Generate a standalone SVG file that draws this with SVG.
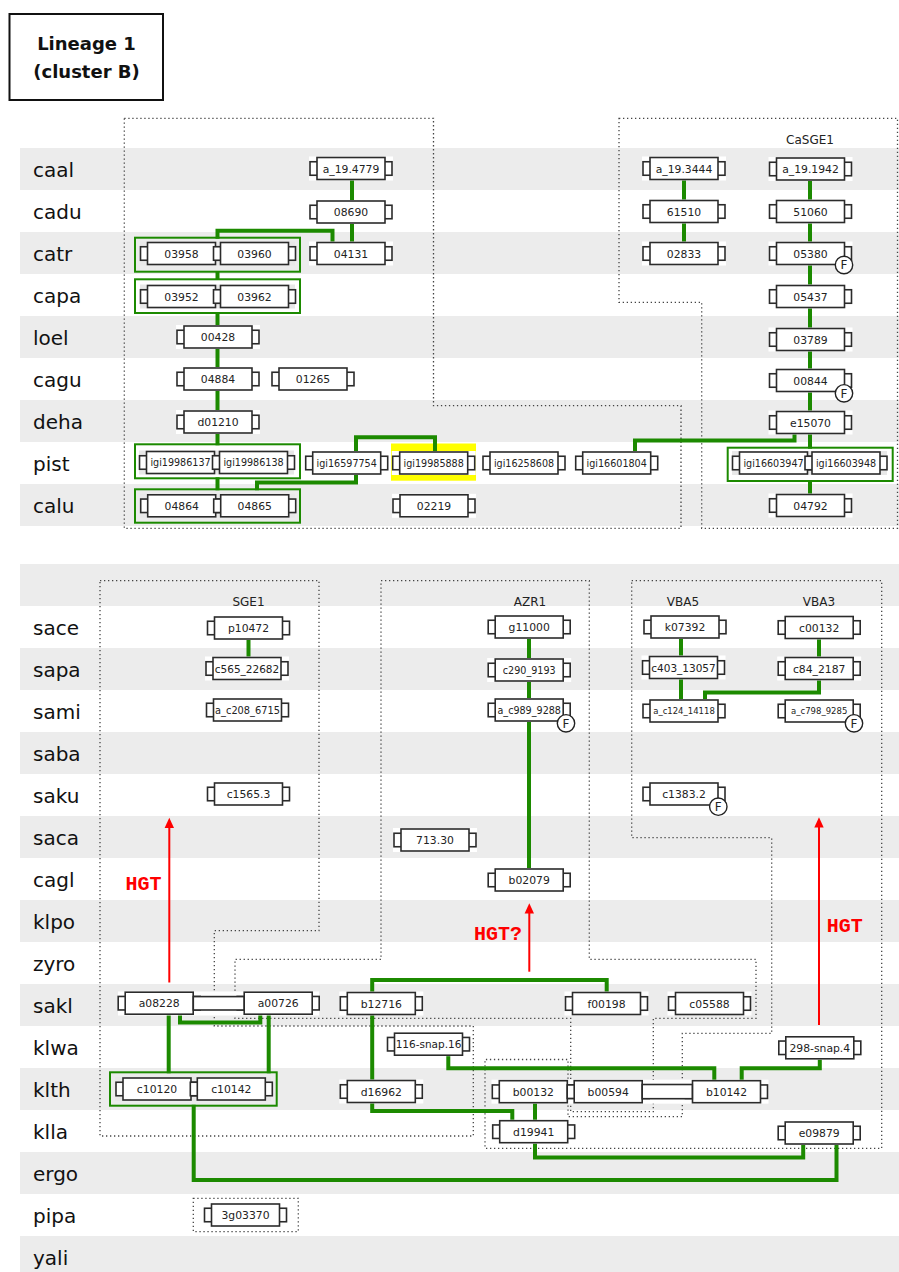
<svg xmlns="http://www.w3.org/2000/svg" xmlns:xlink="http://www.w3.org/1999/xlink" width="899" height="1272" viewBox="0 0 899 1272">
<style>
  .band { fill: #ececec; }
  .sp { font-family: "DejaVu Sans", sans-serif; font-size: 20px; fill: #111; }
  .br { fill: #fff; stroke: #2b2b2b; stroke-width: 1.6; }
  .box { fill: #fff; stroke: #2b2b2b; stroke-width: 1.6; }
  .bar { fill: #fff; stroke: #2b2b2b; stroke-width: 1.6; }
  .lbl { font-family: "DejaVu Sans", sans-serif; font-size: 10.8px; fill: #222; text-anchor: middle; }
  .s9 { font-size: 9.6px; }
  .s105 { font-size: 10.5px; }
  .s98 { font-size: 9.8px; }
  .s86 { font-size: 8.5px; }
  .edge { fill: none; stroke: #1c8a00; stroke-width: 4; }
  .grp { fill: none; stroke: #1c8a00; stroke-width: 2; }
  .ghalo { fill: #e8e8e8; }
  .whalo { fill: #fff; }
  .region { fill: none; stroke: #444; stroke-width: 1.3; stroke-dasharray: 1.3 2.7; }
  .title { font-family: "DejaVu Sans", sans-serif; font-weight: bold; font-size: 18px; fill: #111; text-anchor: middle; }
  .sys { font-family: "DejaVu Sans", sans-serif; font-size: 12px; fill: #222; text-anchor: middle; }
  .hgt { font-family: "Liberation Mono", monospace; font-weight: bold; font-size: 20px; fill: #f00; text-anchor: middle; }
  .arrow { stroke: #f00; stroke-width: 2; fill: none; }
  .head { fill: #f00; }
  .fc { fill: #fff; stroke: #222; stroke-width: 1.4; }
  .ft { font-family: "DejaVu Sans", sans-serif; font-size: 12px; fill: #222; text-anchor: middle; }
</style>
<defs>
  <!-- gene glyph: body with small end caps -->
  <g id="gene">
    <rect class="br" x="-41" y="-6.75" width="8" height="13.5"/>
    <rect class="br" x="33" y="-6.75" width="8" height="13.5"/>
    <rect class="box" x="-34" y="-11" width="68" height="22"/>
  </g>
  <rect id="halo" x="-42" y="-12" width="84" height="24"/>
  <!-- fragment badge -->
  <g id="fbadge">
    <circle class="fc" r="8.7"/>
    <text class="ft" y="4.3">F</text>
  </g>
</defs>

<!-- row bands -->
<g id="bands">
  <rect class="band" x="20" y="148" width="879" height="42"/>
  <rect class="band" x="20" y="232" width="879" height="42"/>
  <rect class="band" x="20" y="316" width="879" height="42"/>
  <rect class="band" x="20" y="400" width="879" height="42"/>
  <rect class="band" x="20" y="484" width="879" height="42"/>
  <rect class="band" x="20" y="564" width="879" height="42"/>
  <rect class="band" x="20" y="648" width="879" height="42"/>
  <rect class="band" x="20" y="732" width="879" height="42"/>
  <rect class="band" x="20" y="816" width="879" height="42"/>
  <rect class="band" x="20" y="900" width="879" height="42"/>
  <rect class="band" x="20" y="984" width="879" height="42"/>
  <rect class="band" x="20" y="1068" width="879" height="42"/>
  <rect class="band" x="20" y="1152" width="879" height="42"/>
  <rect class="band" x="20" y="1236" width="879" height="36"/>
</g>

<!-- title -->
<g id="title">
  <rect x="9.5" y="14" width="153.5" height="86" fill="#fff" stroke="#111" stroke-width="2"/>
  <text class="title" x="86.5" y="50">Lineage 1</text>
  <text class="title" x="86.5" y="78">(cluster B)</text>
</g>

<!-- species labels -->
<g id="species">
  <text class="sp" x="33" y="176.5">caal</text>
  <text class="sp" x="33" y="218.5">cadu</text>
  <text class="sp" x="33" y="260.5">catr</text>
  <text class="sp" x="33" y="302.5">capa</text>
  <text class="sp" x="33" y="344.5">loel</text>
  <text class="sp" x="33" y="386.5">cagu</text>
  <text class="sp" x="33" y="428.5">deha</text>
  <text class="sp" x="33" y="470.5">pist</text>
  <text class="sp" x="33" y="512.5">calu</text>
  <text class="sp" x="33" y="634.5">sace</text>
  <text class="sp" x="33" y="676.5">sapa</text>
  <text class="sp" x="33" y="718.5">sami</text>
  <text class="sp" x="33" y="760.5">saba</text>
  <text class="sp" x="33" y="802.5">saku</text>
  <text class="sp" x="33" y="844.5">saca</text>
  <text class="sp" x="33" y="886.5">cagl</text>
  <text class="sp" x="33" y="928.5">klpo</text>
  <text class="sp" x="33" y="970.5">zyro</text>
  <text class="sp" x="33" y="1012.5">sakl</text>
  <text class="sp" x="33" y="1054.5">klwa</text>
  <text class="sp" x="33" y="1096.5">klth</text>
  <text class="sp" x="33" y="1138.5">klla</text>
  <text class="sp" x="33" y="1180.5">ergo</text>
  <text class="sp" x="33" y="1222.5">pipa</text>
  <text class="sp" x="33" y="1264.5">yali</text>
</g>

<!-- dotted syntenic regions -->
<g id="regions">
  <polygon class="region" points="124.3,118.3 433.5,118.3 433.5,405.7 681,405.7 681,528.3 124.3,528.3"/>
  <polygon class="region" points="619,118.3 897.5,118.3 897.5,528.3 701.7,528.3 701.7,302.3 619,302.3"/>
  <polygon class="region" points="100,580.7 319,580.7 319,930.7 214.3,930.7 214.3,1026 473.3,1026 473.3,1136 100,1136"/>
  <polygon class="region" points="381,580.7 589.3,580.7 589.3,959.3 756,959.3 756,1018.3 653.3,1018.3 653.3,1111.7 570.7,1111.7 570.7,1018.3 235,1018.3 235,959.3 381,959.3"/>
  <polygon class="region" points="631.7,580.7 881.7,580.7 881.7,1148.3 485,1148.3 485,1059.5 568,1059.5 568,1116.7 682.3,1116.7 682.3,1033.3 771.7,1033.3 771.7,837.7 631.7,837.7"/>
  <rect class="region" x="193.3" y="1198.3" width="105" height="33.4"/>
</g>

<!-- system labels -->
<g id="systems">
  <text class="sys" x="810" y="144.3">CaSGE1</text>
  <text class="sys" x="248.5" y="606">SGE1</text>
  <text class="sys" x="530" y="606">AZR1</text>
  <text class="sys" x="683" y="606">VBA5</text>
  <text class="sys" x="819" y="606">VBA3</text>
</g>

<!-- yellow highlight -->
<rect id="highlight" x="391" y="443.5" width="85" height="37.2" fill="#ffff00"/>

<!-- connectors -->
<g id="connectors">
  <path class="edge" d="M352,175 V205"/>
  <path class="edge" d="M352,218 V246"/>
  <path class="edge" d="M332.5,246 V230.7 H217.5 V238.7"/>
  <path class="edge" d="M217.5,271 V280"/>
  <path class="edge" d="M217.5,312 V330"/>
  <path class="edge" d="M217.5,345 V372"/>
  <path class="edge" d="M217.5,387 V414"/>
  <path class="edge" d="M217.5,430 V445.3"/>
  <path class="edge" d="M217.5,477.3 V490.3"/>
  <path class="edge" d="M356,470 V482.5 H257 V490.3"/>
  <path class="edge" d="M356,456 V437.3 H435 V456"/>
  <path class="edge" d="M635,456 V440.5 H794.5 V428"/>
  <path class="edge" d="M684,175 V205"/>
  <path class="edge" d="M684,218 V246"/>
  <path class="edge" d="M810,175 V205"/>
  <path class="edge" d="M810,218 V246"/>
  <path class="edge" d="M810,260 V288"/>
  <path class="edge" d="M810,302 V330"/>
  <path class="edge" d="M810,344 V372"/>
  <path class="edge" d="M810,386 V414"/>
  <path class="edge" d="M810,428 V448.7"/>
  <path class="edge" d="M810,480 V498"/>

  <path class="edge" d="M248.5,634 V662"/>
  <path class="edge" d="M529,634 V662"/>
  <path class="edge" d="M529,676 V704"/>
  <path class="edge" d="M529,718 V873"/>
  <path class="edge" d="M681,634 V662"/>
  <path class="edge" d="M681,676 V704"/>
  <path class="edge" d="M819,634 V662"/>
  <path class="edge" d="M819,676 V692.5 H705 V704"/>

  <path class="edge" d="M180,1010 V1022.5 H260.3 V1010"/>
  <path class="edge" d="M168.7,1010 V1073.3"/>
  <path class="edge" d="M268.7,1010 V1073.3"/>
  <path class="edge" d="M193.7,1104.7 V1180 H836.5 V1138"/>
  <path class="edge" d="M535,1138 V1157.5 H803.2 V1138"/>
  <path class="edge" d="M535,1098 V1125"/>
  <path class="edge" d="M819.8,1054 V1068.3 H741.7 V1084"/>
  <path class="edge" d="M448.3,1050 V1068.3 H714.3 V1084"/>
  <path class="edge" d="M372.2,998 V980 H606.7 V998"/>
  <path class="edge" d="M372.2,1010 V1084"/>
  <path class="edge" d="M372.2,1098 V1111 H512.3 V1125"/>

  <!-- transfer arrows -->
  <path class="arrow" d="M169.3,982.5 V826"/>
  <polygon class="head" points="169.3,817.7 164.6,828 174,828"/>
  <path class="arrow" d="M529.3,971.7 V912"/>
  <polygon class="head" points="529.3,903.3 524.6,913.6 534,913.6"/>
  <path class="arrow" d="M819,1025 V826"/>
  <polygon class="head" points="819,817.3 814.3,827.6 823.7,827.6"/>
  <text class="hgt" x="143.5" y="890">HGT</text>
  <text class="hgt" x="498" y="940">HGT?</text>
  <text class="hgt" x="844.7" y="932">HGT</text>
</g>

<!-- genes, upper block -->
<g id="n-a_19.4779" transform="translate(351,168.5)"><use href="#halo" class="whalo"/><use href="#gene"/><text class="lbl" y="4">a_19.4779</text></g>
<g id="n-08690" transform="translate(351,212)"><use href="#halo" class="whalo"/><use href="#gene"/><text class="lbl" y="4">08690</text></g>
<g id="n-04131" transform="translate(351,253.5)"><use href="#halo" class="whalo"/><use href="#gene"/><text class="lbl" y="4">04131</text></g>
<g id="grp-catr">
  <rect class="ghalo" x="140" y="241.5" width="155" height="24"/>
  <rect class="grp" x="135" y="237.7" width="165" height="34"/>
  <g id="n-03958" transform="translate(181.5,253.5)"><use href="#gene"/><text class="lbl" y="4">03958</text></g>
  <g id="n-03960" transform="translate(254.5,253.5)"><use href="#gene"/><text class="lbl" y="4">03960</text></g>
</g>
<g id="grp-capa">
  <rect class="ghalo" x="140" y="284.5" width="155" height="24"/>
  <rect class="grp" x="135" y="279.3" width="165" height="33.7"/>
  <g id="n-03952" transform="translate(181.5,296.5)"><use href="#gene"/><text class="lbl" y="4">03952</text></g>
  <g id="n-03962" transform="translate(254.5,296.5)"><use href="#gene"/><text class="lbl" y="4">03962</text></g>
</g>
<g id="n-00428" transform="translate(218,337)"><use href="#halo" class="whalo"/><use href="#gene"/><text class="lbl" y="4">00428</text></g>
<g id="n-04884" transform="translate(218,379)"><use href="#halo" class="whalo"/><use href="#gene"/><text class="lbl" y="4">04884</text></g>
<g id="n-01265" transform="translate(313,379)"><use href="#halo" class="whalo"/><use href="#gene"/><text class="lbl" y="4">01265</text></g>
<g id="n-d01210" transform="translate(218,422)"><use href="#halo" class="whalo"/><use href="#gene"/><text class="lbl" y="4">d01210</text></g>
<g id="grp-pist-a">
  <rect class="ghalo" x="139" y="450.5" width="155" height="24"/>
  <rect class="grp" x="135" y="444.3" width="165" height="34"/>
  <g id="n-igi19986137" transform="translate(180.5,462.5)"><use href="#gene"/><text class="lbl s9" y="3.6">igi19986137</text></g>
  <g id="n-igi19986138" transform="translate(253.5,462.5)"><use href="#gene"/><text class="lbl s9" y="3.6">igi19986138</text></g>
</g>
<g id="n-igi16597754" transform="translate(346.7,463)"><use href="#halo" class="whalo"/><use href="#gene"/><text class="lbl s9" y="3.6">igi16597754</text></g>
<g id="n-igi19985888" transform="translate(433.7,463)"><use href="#halo" class="whalo"/><use href="#gene"/><text class="lbl s9" y="3.6">igi19985888</text></g>
<g id="n-igi16258608" transform="translate(524,463)"><use href="#halo" class="whalo"/><use href="#gene"/><text class="lbl s9" y="3.6">igi16258608</text></g>
<g id="n-igi16601804" transform="translate(616.7,463)"><use href="#halo" class="whalo"/><use href="#gene"/><text class="lbl s9" y="3.6">igi16601804</text></g>
<g id="grp-calu">
  <rect class="ghalo" x="140" y="493.8" width="155" height="24"/>
  <rect class="grp" x="135" y="489.3" width="165" height="33.4"/>
  <g id="n-04864" transform="translate(181.7,505.8)"><use href="#gene"/><text class="lbl" y="4">04864</text></g>
  <g id="n-04865" transform="translate(254.7,505.8)"><use href="#gene"/><text class="lbl" y="4">04865</text></g>
</g>
<g id="n-02219" transform="translate(434,505.8)"><use href="#halo" class="whalo"/><use href="#gene"/><text class="lbl" y="4">02219</text></g>

<g id="n-a_19.3444" transform="translate(684,168.5)"><use href="#halo" class="whalo"/><use href="#gene"/><text class="lbl" y="4">a_19.3444</text></g>
<g id="n-61510" transform="translate(684,211.5)"><use href="#halo" class="whalo"/><use href="#gene"/><text class="lbl" y="4">61510</text></g>
<g id="n-02833" transform="translate(684,253.5)"><use href="#halo" class="whalo"/><use href="#gene"/><text class="lbl" y="4">02833</text></g>

<g id="n-a_19.1942" transform="translate(810.5,169)"><use href="#halo" class="whalo"/><use href="#gene"/><text class="lbl" y="4">a_19.1942</text></g>
<g id="n-51060" transform="translate(810.5,211.5)"><use href="#halo" class="whalo"/><use href="#gene"/><text class="lbl" y="4">51060</text></g>
<g id="n-05380" transform="translate(810.5,253.5)"><use href="#halo" class="whalo"/><use href="#gene"/><text class="lbl" y="4">05380</text><use href="#fbadge" x="33.5" y="11.5"/></g>
<g id="n-05437" transform="translate(810.5,296.5)"><use href="#halo" class="whalo"/><use href="#gene"/><text class="lbl" y="4">05437</text></g>
<g id="n-03789" transform="translate(810.5,339.5)"><use href="#halo" class="whalo"/><use href="#gene"/><text class="lbl" y="4">03789</text></g>
<g id="n-00844" transform="translate(810.5,380.5)"><use href="#halo" class="whalo"/><use href="#gene"/><text class="lbl" y="4">00844</text><use href="#fbadge" x="33.5" y="12.8"/></g>
<g id="n-e15070" transform="translate(810.5,422.5)"><use href="#halo" class="whalo"/><use href="#gene"/><text class="lbl" y="4">e15070</text></g>
<g id="grp-pist-b">
  <rect class="ghalo" x="732" y="451" width="155" height="24"/>
  <rect class="grp" x="727.7" y="447.7" width="165" height="33.3"/>
  <g id="n-igi16603947" transform="translate(773.5,463)"><use href="#gene"/><text class="lbl s9" y="3.6">igi16603947</text></g>
  <g id="n-igi16603948" transform="translate(846,463)"><use href="#gene"/><text class="lbl s9" y="3.6">igi16603948</text></g>
</g>
<g id="n-04792" transform="translate(810.5,505.5)"><use href="#halo" class="whalo"/><use href="#gene"/><text class="lbl" y="4">04792</text></g>

<!-- genes, lower block -->
<g id="n-p10472" transform="translate(248.5,628)"><use href="#halo" class="whalo"/><use href="#gene"/><text class="lbl" y="4">p10472</text></g>
<g id="n-c565_22682" transform="translate(247,668.5)"><use href="#halo" class="whalo"/><use href="#gene"/><text class="lbl s105" y="4">c565_22682</text></g>
<g id="n-a_c208_6715" transform="translate(247.5,710)"><use href="#halo" class="whalo"/><use href="#gene"/><text class="lbl s98" y="3.7">a_c208_6715</text></g>
<g id="n-c1565.3" transform="translate(248.5,794)"><use href="#halo" class="whalo"/><use href="#gene"/><text class="lbl" y="4">c1565.3</text></g>

<g id="n-g11000" transform="translate(529.2,627)"><use href="#halo" class="whalo"/><use href="#gene"/><text class="lbl" y="4">g11000</text></g>
<g id="n-c290_9193" transform="translate(529.2,670)"><use href="#halo" class="whalo"/><use href="#gene"/><text class="lbl s9" y="3.6">c290_9193</text></g>
<g id="n-a_c989_9288" transform="translate(529.2,710)"><use href="#halo" class="whalo"/><use href="#gene"/><text class="lbl s9" y="3.6">a_c989_9288</text><use href="#fbadge" x="36.8" y="13.3"/></g>
<g id="n-713.30" transform="translate(435,840)"><use href="#halo" class="whalo"/><use href="#gene"/><text class="lbl" y="4">713.30</text></g>
<g id="n-b02079" transform="translate(529.2,880)"><use href="#halo" class="whalo"/><use href="#gene"/><text class="lbl" y="4">b02079</text></g>

<g id="n-k07392" transform="translate(685,627)"><use href="#halo" class="whalo"/><use href="#gene"/><text class="lbl" y="4">k07392</text></g>
<g id="n-c403_13057" transform="translate(683.5,667.5)"><use href="#halo" class="whalo"/><use href="#gene"/><text class="lbl s105" y="4">c403_13057</text></g>
<g id="n-a_c124_14118" transform="translate(684,711)"><use href="#halo" class="whalo"/><use href="#gene"/><text class="lbl s86" y="3.2">a_c124_14118</text></g>
<g id="n-c1383.2" transform="translate(684,794)"><use href="#halo" class="whalo"/><use href="#gene"/><text class="lbl" y="4">c1383.2</text><use href="#fbadge" x="34.3" y="12.7"/></g>

<g id="n-c00132" transform="translate(819.2,627.5)"><use href="#halo" class="whalo"/><use href="#gene"/><text class="lbl" y="4">c00132</text></g>
<g id="n-c84_2187" transform="translate(819.2,668.5)"><use href="#halo" class="whalo"/><use href="#gene"/><text class="lbl" y="4">c84_2187</text></g>
<g id="n-a_c798_9285" transform="translate(819.2,711)"><use href="#halo" class="whalo"/><use href="#gene"/><text class="lbl s86" y="3.2">a_c798_9285</text><use href="#fbadge" x="34.8" y="12.3"/></g>

<g id="chain-sakl">
  <rect class="whalo" x="118" y="991.5" width="201" height="24"/>
  <g id="n-a08228" transform="translate(159.2,1003.2)"><use href="#gene"/><text class="lbl" y="4">a08228</text></g>
  <g id="n-a00726" transform="translate(278.2,1003.2)"><use href="#gene"/><text class="lbl" y="4">a00726</text></g>
  <rect class="bar" x="193.3" y="996.6" width="50.7" height="13.4"/>
</g>
<g id="n-b12716" transform="translate(381.3,1003.5)"><use href="#halo" class="whalo"/><use href="#gene"/><text class="lbl" y="4">b12716</text></g>
<g id="n-f00198" transform="translate(606.5,1003.5)"><use href="#halo" class="whalo"/><use href="#gene"/><text class="lbl" y="4">f00198</text></g>
<g id="n-c05588" transform="translate(709.5,1003.5)"><use href="#halo" class="whalo"/><use href="#gene"/><text class="lbl" y="4">c05588</text></g>

<g id="n-116-snap.16" transform="translate(428.5,1044.2)"><use href="#halo" class="whalo"/><use href="#gene"/><text class="lbl s105" y="4">116-snap.16</text></g>
<g id="n-298-snap.4" transform="translate(819.8,1047.8)"><use href="#halo" class="whalo"/><use href="#gene"/><text class="lbl" y="4">298-snap.4</text></g>

<g id="grp-klth">
  <rect class="ghalo" x="115" y="1077" width="156" height="24"/>
  <rect class="grp" x="110" y="1072.3" width="166.7" height="33.4"/>
  <g id="n-c10120" transform="translate(157,1089)"><use href="#gene"/><text class="lbl" y="4">c10120</text></g>
  <g id="n-c10142" transform="translate(231.3,1089)"><use href="#gene"/><text class="lbl" y="4">c10142</text></g>
</g>
<g id="n-d16962" transform="translate(381.3,1091.5)"><use href="#halo" class="whalo"/><use href="#gene"/><text class="lbl" y="4">d16962</text></g>
<g id="chain-klth">
  <rect class="whalo" x="491.5" y="1079.7" width="277" height="24"/>
  <g id="n-b00132" transform="translate(533.3,1091.7)"><use href="#gene"/><text class="lbl" y="4">b00132</text></g>
  <g id="n-b00594" transform="translate(608.2,1091.7)"><use href="#gene"/><text class="lbl" y="4">b00594</text></g>
  <g id="n-b10142" transform="translate(726.5,1091.7)"><use href="#gene"/><text class="lbl" y="4">b10142</text></g>
  <rect class="bar" x="642.2" y="1084.5" width="50.1" height="14.2"/>
</g>

<g id="n-d19941" transform="translate(533.7,1131.7)"><use href="#halo" class="whalo"/><use href="#gene"/><text class="lbl" y="4">d19941</text></g>
<g id="n-e09879" transform="translate(819.2,1133)"><use href="#halo" class="whalo"/><use href="#gene"/><text class="lbl" y="4">e09879</text></g>

<g id="n-3g03370" transform="translate(245.5,1215)"><use href="#gene"/><text class="lbl" y="4">3g03370</text></g>
</svg>
